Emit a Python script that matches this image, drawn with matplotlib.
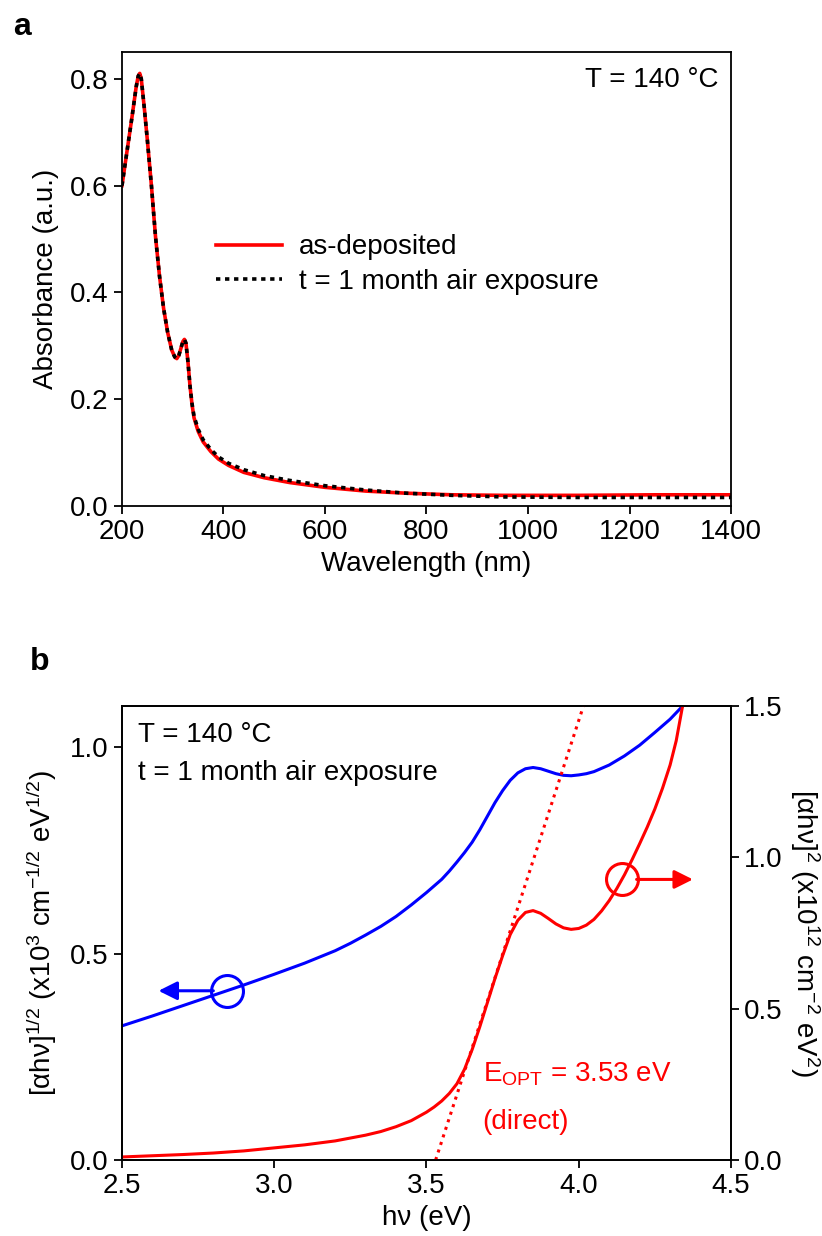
import numpy as np
import matplotlib
matplotlib.use('Agg')
import matplotlib.pyplot as plt

plt.rcParams['font.family'] = ['Liberation Sans', 'DejaVu Sans']
plt.rcParams['mathtext.default'] = 'regular'
plt.rcParams['axes.linewidth'] = 1.3

# --- panel a: absorbance spectra ---
wl = [200, 210, 220, 228, 232, 235, 238, 244, 250, 258, 266, 274, 282, 290, 298,
      304, 308, 312, 316, 320, 323, 326, 330, 334, 338, 342, 350, 360, 375, 390,
      410, 440, 480, 530, 600, 680, 760, 850, 950, 1100, 1250, 1400]
abs_dep = [0.600, 0.665, 0.730, 0.785, 0.805, 0.810, 0.800, 0.745, 0.685, 0.600,
           0.505, 0.430, 0.370, 0.325, 0.292, 0.279, 0.276, 0.282, 0.295, 0.308,
           0.312, 0.305, 0.270, 0.225, 0.190, 0.165, 0.140, 0.120, 0.102, 0.088,
           0.076, 0.063, 0.053, 0.044, 0.035, 0.028, 0.024, 0.021, 0.020, 0.020,
           0.021, 0.021]
abs_air = [0.600, 0.665, 0.730, 0.785, 0.805, 0.810, 0.800, 0.745, 0.685, 0.600,
           0.505, 0.430, 0.370, 0.325, 0.292, 0.279, 0.276, 0.282, 0.295, 0.308,
           0.312, 0.305, 0.270, 0.225, 0.192, 0.168, 0.144, 0.124, 0.106, 0.092,
           0.080, 0.068, 0.057, 0.048, 0.038, 0.030, 0.024, 0.020, 0.017, 0.016,
           0.016, 0.016]

# --- panel b: Tauc plots ---
hv_half = [2.5, 2.6, 2.7, 2.8, 2.9, 3.0, 3.1, 3.2, 3.25, 3.3, 3.35, 3.4, 3.45,
           3.5, 3.55, 3.575, 3.6, 3.625, 3.65, 3.675, 3.7, 3.725, 3.75, 3.775,
           3.8, 3.825, 3.85, 3.875, 3.9, 3.925, 3.95, 3.975, 4.0, 4.025, 4.05,
           4.1, 4.15, 4.2, 4.25, 4.3, 4.34]
tauc_half = [0.325, 0.349, 0.374, 0.399, 0.424, 0.450, 0.477, 0.507, 0.525,
             0.545, 0.566, 0.590, 0.618, 0.648, 0.680, 0.700, 0.722, 0.745,
             0.770, 0.800, 0.833, 0.866, 0.895, 0.920, 0.938, 0.948, 0.951,
             0.948, 0.942, 0.936, 0.932, 0.931, 0.933, 0.936, 0.941, 0.957,
             0.979, 1.005, 1.036, 1.068, 1.099]
hv_sq = [2.5, 2.6, 2.7, 2.8, 2.9, 3.0, 3.1, 3.2, 3.3, 3.35, 3.4, 3.45, 3.5,
         3.525, 3.55, 3.575, 3.6, 3.625, 3.65, 3.675, 3.7, 3.725, 3.75, 3.775,
         3.8, 3.825, 3.85, 3.875, 3.9, 3.925, 3.95, 3.975, 4.0, 4.025, 4.05,
         4.075, 4.1, 4.125, 4.15, 4.175, 4.2, 4.225, 4.25, 4.275, 4.3, 4.32,
         4.341]
tauc_sq = [0.010, 0.014, 0.018, 0.023, 0.030, 0.040, 0.050, 0.063, 0.082, 0.094,
           0.110, 0.130, 0.158, 0.175, 0.195, 0.220, 0.252, 0.300, 0.365, 0.440,
           0.520, 0.600, 0.675, 0.745, 0.792, 0.818, 0.824, 0.815, 0.798, 0.780,
           0.767, 0.762, 0.765, 0.776, 0.795, 0.823, 0.857, 0.897, 0.942, 0.992,
           1.045, 1.100, 1.160, 1.228, 1.305, 1.385, 1.500]
e_opt = 3.53
fit_slope = 3.09  # per eV, right-axis units

fig = plt.figure(figsize=(8.22, 12.36), dpi=100)

# panel a
ax1 = fig.add_axes([0.1484, 0.5906, 0.7409, 0.3673])
ax1.plot(wl, abs_dep, color='red', lw=2.6, label='as-deposited')
ax1.plot(wl, abs_air, color='black', lw=2.6, ls=(0, (1.2, 1.3)),
         label='t = 1 month air exposure')
ax1.set_xlim(200, 1400)
ax1.set_ylim(0, 0.85)
ax1.set_xticks([200, 400, 600, 800, 1000, 1200, 1400])
ax1.set_yticks([0.0, 0.2, 0.4, 0.6, 0.8])
ax1.set_yticklabels(['0.0', '0.2', '0.4', '0.6', '0.8'])
ax1.tick_params(direction='out', length=6, width=1.3, labelsize=20)
ax1.set_xlabel('Wavelength (nm)', fontsize=20, labelpad=4)
ax1.set_ylabel('Absorbance (a.u.)', fontsize=20, labelpad=8)
ax1.legend(loc='center left', bbox_to_anchor=(0.154, 0.532), frameon=False,
           fontsize=20, handlelength=2.4, handletextpad=0.6, labelspacing=0.3,
           borderpad=0, borderaxespad=0)
ax1.text(0.98, 0.938, 'T = 140 °C', transform=ax1.transAxes, ha='right',
         va='center', fontsize=20)
fig.text(22 / 822, 1 - 27 / 1236, 'a', fontsize=23, fontweight='bold',
         ha='center', va='center')

# panel b
ax2 = fig.add_axes([0.1484, 0.0615, 0.7409, 0.3673])
ax3 = ax2.twinx()
ax2.plot(hv_half, tauc_half, color='blue', lw=2.2)
ax3.plot(hv_sq, tauc_sq, color='red', lw=2.2)
fit_x = np.array([e_opt, e_opt + 1.5 / fit_slope])
ax3.plot(fit_x, fit_slope * (fit_x - e_opt), color='red', lw=2.2,
         ls=(0, (1, 1.6)))

ax2.set_xlim(2.5, 4.5)
ax2.set_ylim(0, 1.1)
ax3.set_ylim(0, 1.5)
ax2.set_xticks([2.5, 3.0, 3.5, 4.0, 4.5])
ax2.set_xticklabels(['2.5', '3.0', '3.5', '4.0', '4.5'])
ax2.set_yticks([0.0, 0.5, 1.0])
ax2.set_yticklabels(['0.0', '0.5', '1.0'])
ax3.set_yticks([0.0, 0.5, 1.0, 1.5])
ax3.set_yticklabels(['0.0', '0.5', '1.0', '1.5'])
for a in (ax2, ax3):
    a.tick_params(direction='out', length=6, width=1.3, labelsize=20)
ax2.set_xlabel('h\u03bd (eV)', fontsize=20, labelpad=4)
ax2.set_ylabel('[\u03b1h\u03bd]$^{1/2}$ (x10$^3$ cm$^{-1/2}$ eV$^{1/2}$)',
               fontsize=20, labelpad=8)
ax3.set_ylabel('[\u03b1h\u03bd]$^2$ (x10$^{12}$ cm$^{-2}$ eV$^2$)',
               fontsize=20, rotation=270, labelpad=28)

# axis indicators: circles with arrows
blue_mark = (2.846, 0.41)
red_mark = (4.142, 0.927)
ax2.plot(*blue_mark, marker='o', ms=23, mfc='none', mec='blue', mew=2.2)
ax2.annotate('', xy=(2.62, blue_mark[1]), xytext=(2.80, blue_mark[1]),
             arrowprops=dict(arrowstyle='-|>', color='blue', lw=2.2,
                             mutation_scale=28, shrinkA=0, shrinkB=0))
ax3.plot(*red_mark, marker='o', ms=23, mfc='none', mec='red', mew=2.2)
ax3.annotate('', xy=(4.375, red_mark[1]), xytext=(4.19, red_mark[1]),
             arrowprops=dict(arrowstyle='-|>', color='red', lw=2.2,
                             mutation_scale=28, shrinkA=0, shrinkB=0))

ax2.text(0.026, 0.936, 'T = 140 °C', transform=ax2.transAxes, ha='left',
         va='center', fontsize=20)
ax2.text(0.026, 0.852, 't = 1 month air exposure', transform=ax2.transAxes,
         ha='left', va='center', fontsize=20)
ax2.text(3.684, 0.207, 'E$_{OPT}$ = 3.53 eV', color='red', ha='left',
         va='center', fontsize=20)
ax2.text(3.684, 0.092, '(direct)', color='red', ha='left', va='center',
         fontsize=20)
fig.text(40 / 822, 1 - 662 / 1236, 'b', fontsize=23, fontweight='bold',
         ha='center', va='center')

fig.savefig('out.png', dpi=100)
